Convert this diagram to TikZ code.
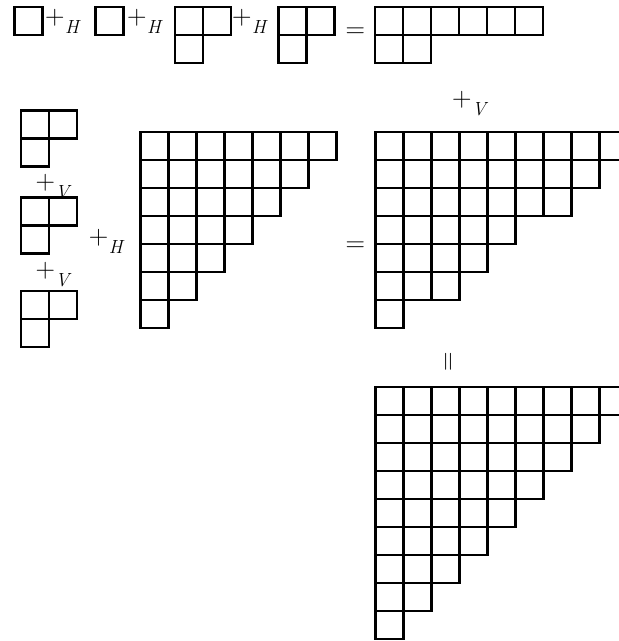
\documentclass[tikz,border=0pt]{standalone}
\newcommand\yngd[4]{% name, x, y, row lengths
  \foreach \len [count=\r from 0] in {#4} {
    \foreach \c in {1,...,\len} {
      \draw[cellbox] ({#2+(\c-1)*28},{#3+\r*28}) rectangle ++(28,28);
    }
  }
  \coordinate (#1) at (#2,#3);
}
\newcommand\subsc[1]{\kern0.5pt\raisebox{-9pt}{\fontsize{19}{19}\selectfont\itshape #1}}
\newcommand\opH{+\subsc{H}}
\newcommand\opV{+\subsc{V}}
\begin{document}
\begin{tikzpicture}[x=1pt,y=-1pt,
  cellbox/.style={line width=2.5pt, line join=miter},
  op/.style={font=\fontsize{27}{32}\selectfont, inner sep=0pt, anchor=base west}]
\useasboundingbox (0,0) rectangle (619,641);
\clip (0,0) rectangle (619,641);
% top row
\yngd{t1}{14.5}{7}{1}
\yngd{t2}{95.5}{7}{1}
\yngd{t3}{175}{7}{2,1}
\yngd{t4}{278.5}{7}{2,1}
\yngd{t5}{375}{7}{6,2}
\node[op] (h1) at (45,24) {\opH};
\node[op] (h2) at (127,24) {\opH};
\node[op] (h3) at (232,24) {\opH};
\node[op] (e1) at (345.5,37) {=};
% middle row
\yngd{l1}{21}{110.5}{2,1}
\yngd{l2}{21}{197.5}{2,1}
\yngd{l3}{21}{291}{2,1}
\node[op] (v1) at (35.3,189) {\opV};
\node[op] (v2) at (35.3,277) {\opV};
\node[op] (h4) at (88.7,244) {\opH};
\yngd{big}{140.5}{132}{7,6,5,4,3,2,1}
\node[op] (e2) at (345.5,251.5) {=};
\yngd{r1}{375.5}{132}{9,8,7,5,4,3,1}
\node[op] (v3) at (452,106.5) {\opV};
% bottom
\node[op, anchor=center, rotate=90] (e3) at (450,361.7) {=};
\yngd{r2}{375.5}{387}{9,8,7,6,5,4,3,2,1}
\end{tikzpicture}
\end{document}
